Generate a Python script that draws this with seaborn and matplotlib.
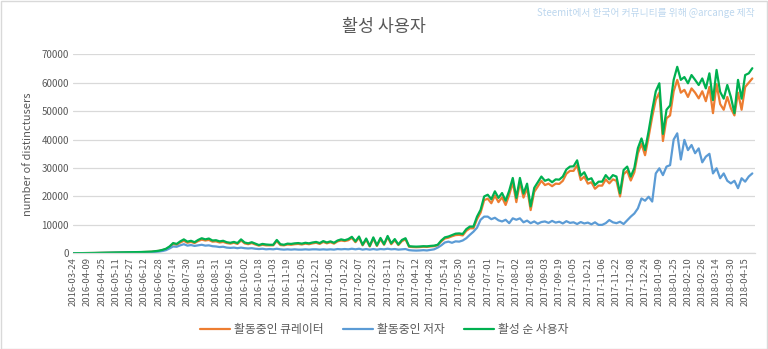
import numpy as np
import pandas as pd
import matplotlib
matplotlib.use("Agg")
import matplotlib.pyplot as plt
from matplotlib.patches import Rectangle
import seaborn as sns

# ---------------- data (sampled every 4 days from 2016-03-24) ----------------
start_date = "2016-03-24"
step_days = 4

series_names = ["활동중인 큐레이터", "활동중인 저자", "활성 순 사용자"]

active_curators = [
    25, 35, 45, 55, 70, 90, 110, 140, 160, 180, 200, 230, 250, 270, 300, 320, 340, 360, 380, 410, 450, 500, 540, 680,
    850, 1100, 1450, 2200,
    3300, 3000, 3800, 4400,
    3700, 4000, 3600, 4300,
    4800, 4500, 4700, 4100,
    4200, 3800, 4000, 3600,
    3400, 3700, 3300, 4500,
    3500, 3200, 3600, 3100,
    2700, 3000, 2800, 2800,
    2800, 4300, 2900, 2800,
    3100, 3000, 3200, 3300,
    3100, 3400, 3200, 3500,
    3700, 3300, 4000, 3500,
    3900, 3400, 4200, 4500,
    4300, 4600, 5400, 3900,
    5500, 2800, 4800, 2400,
    5200, 2600, 5000, 3000,
    5700, 3200, 4600, 2900,
    4300, 4900, 2300, 2200,
    2150, 2200, 2300, 2250,
    2400, 2500, 2800, 4200,
    5200, 5500, 6000, 6400,
    6500, 6300, 7900, 8800,
    8800, 12000, 14300, 18700,
    19200, 17600, 20300, 18000,
    19700, 17000, 20500, 25000,
    18000, 25000, 19600, 23000,
    15200, 21600, 23500, 25500,
    24000, 24500, 23600, 24500,
    24400, 25500, 28000, 29000,
    29000, 31000, 25800, 27000,
    24500, 25000, 22700, 23800,
    23800, 26000, 24600, 26000,
    25500, 20000, 27800, 29000,
    25600, 28500, 35200, 38500,
    34500, 41000, 48000, 54000,
    56500, 39500, 47500, 48500,
    57000, 61000, 56500, 57500,
    55000, 58000, 56500, 54500,
    57000, 53500, 58500, 49300,
    59500, 52500, 50500, 55000,
    51000, 48500, 56500, 50500,
    58500, 60000, 61500,
]

active_authors = [
    20, 25, 30, 40, 50, 60, 80, 100, 110, 120, 140, 160, 180, 200, 220, 240, 260, 280, 300, 320, 350, 380, 420, 500,
    600, 800, 1100, 1700,
    2400, 2300, 2800, 3200,
    2700, 2900, 2600, 2800,
    3000, 2700, 2800, 2500,
    2400, 2200, 2300, 2000,
    1900, 2000, 1800, 2000,
    1800, 1700, 1800, 1600,
    1500, 1600, 1400, 1500,
    1400, 1600, 1400, 1300,
    1400, 1300, 1400, 1300,
    1300, 1400, 1300, 1400,
    1400, 1300, 1400, 1300,
    1400, 1300, 1500, 1400,
    1500, 1400, 1600, 1400,
    1600, 1300, 1500, 1300,
    1500, 1300, 1500, 1400,
    1600, 1400, 1500, 1300,
    1400, 1500, 1100, 1000,
    950, 1000, 1100, 1000,
    1200, 1400, 2000, 2800,
    3800, 4100, 3700, 4200,
    4100, 4500, 5300, 6500,
    7600, 9000, 11800, 12900,
    12900, 12000, 12500, 11600,
    11200, 11800, 10600, 12300,
    11800, 12300, 10900, 11500,
    10600, 11200, 10400, 11000,
    11200, 10700, 11400, 10800,
    11100, 10500, 11300, 10700,
    10900, 10300, 11000, 10500,
    10800, 10200, 10900, 10000,
    10000, 10600, 11700, 10900,
    10600, 11100, 10300, 11600,
    12900, 14000, 15800, 19300,
    18500, 19900, 18200, 28100,
    29900, 27500, 30500, 31000,
    40000, 42200, 33000, 39900,
    36300, 38100, 35200, 36900,
    32000, 34000, 35000, 28100,
    29900, 26400, 28100, 25500,
    24600, 25500, 22900, 26400,
    25200, 27000, 28100,
]

active_users = [
    30, 40, 50, 60, 80, 100, 120, 150, 180, 200, 220, 250, 280, 300, 330, 350, 380, 400, 420, 450, 500, 550, 600, 750,
    900, 1200, 1600, 2400,
    3600, 3300, 4200, 4900,
    4100, 4400, 3900, 4700,
    5300, 4900, 5200, 4500,
    4600, 4200, 4400, 3900,
    3700, 4000, 3600, 4900,
    3800, 3500, 3900, 3400,
    2900, 3300, 3100, 3000,
    3000, 4700, 3200, 3000,
    3400, 3300, 3500, 3600,
    3400, 3700, 3500, 3800,
    4000, 3600, 4300, 3800,
    4200, 3700, 4500, 4900,
    4600, 5000, 5800, 4200,
    5900, 3000, 5200, 2600,
    5600, 2800, 5400, 3200,
    6100, 3500, 5000, 3100,
    4700, 5300, 2500, 2400,
    2350, 2400, 2500, 2450,
    2600, 2700, 3000, 4500,
    5600, 5900, 6400, 6900,
    7000, 6800, 8500, 9400,
    9400, 12900, 15300, 20000,
    20600, 19000, 21800, 19500,
    21200, 18500, 22000, 26500,
    19500, 26500, 21000, 24500,
    16500, 23000, 25000, 27000,
    25500, 26000, 25000, 26000,
    25900, 27000, 29500, 30500,
    30600, 32700, 27300, 28500,
    25900, 26400, 24000, 25200,
    25200, 27500, 26000, 27500,
    27000, 21100, 29300, 30500,
    27000, 30000, 37000, 40400,
    36300, 43000, 50400, 57000,
    59800, 42000, 50500, 52000,
    61000, 65600, 61000, 62000,
    59800, 62700, 61000, 59200,
    61500, 58000, 63300, 53900,
    64500, 56800, 54400, 59200,
    55000, 49300, 61000, 54400,
    62700, 63300, 65100,
]

x_tick_labels = [
    "2016-03-24", "2016-04-09", "2016-04-25", "2016-05-11", "2016-05-27", "2016-06-12",
    "2016-06-28", "2016-07-14", "2016-07-30", "2016-08-15", "2016-08-31", "2016-09-16",
    "2016-10-02", "2016-10-18", "2016-11-03", "2016-11-19", "2016-12-05", "2016-12-21",
    "2017-01-06", "2017-01-22", "2017-02-07", "2017-02-23", "2017-03-11", "2017-03-27",
    "2017-04-12", "2017-04-28", "2017-05-14", "2017-05-30", "2017-06-15", "2017-07-01",
    "2017-07-17", "2017-08-02", "2017-08-18", "2017-09-03", "2017-09-19", "2017-10-05",
    "2017-10-21", "2017-11-06", "2017-11-22", "2017-12-08", "2017-12-24", "2018-01-09",
    "2018-01-25", "2018-02-10", "2018-02-26", "2018-03-14", "2018-03-30", "2018-04-15",
]
y_ticks = [0, 10000, 20000, 30000, 40000, 50000, 60000, 70000]

colors = {"활동중인 큐레이터": "#ED7D31", "활동중인 저자": "#5B9BD5", "활성 순 사용자": "#00B050"}

# ---------------- build table ----------------
dates = pd.date_range(start_date, periods=len(active_users), freq=f"{step_days}D")
wide = pd.DataFrame({
    "date": dates,
    series_names[0]: active_curators,
    series_names[1]: active_authors,
    series_names[2]: active_users,
})
long = wide.melt(id_vars="date", var_name="series", value_name="users")

# ---------------- style ----------------
sns.set_theme(style="white")
plt.rcParams["font.family"] = ["Noto Sans CJK KR", "DejaVu Sans"]
text_color = "#595959"
grid_color = "#d9d9d9"

W, H = 768, 349
fig = plt.figure(figsize=(W / 100, H / 100), dpi=100)
left, right, top, bottom = 73, 755, 54.3, 253.3
ax = fig.add_axes([left / W, 1 - bottom / H, (right - left) / W, (bottom - top) / H])

sns.lineplot(data=long, x="date", y="users", hue="series", hue_order=series_names,
             palette=colors, linewidth=1.6, ax=ax, estimator=None)

# axes
tick_dates = pd.to_datetime(x_tick_labels)
ax.set_xticks(tick_dates)
ax.set_xticklabels(x_tick_labels, rotation=90, fontsize=6.8, color=text_color)
ax.set_xlim(pd.Timestamp(start_date), pd.Timestamp(start_date) + pd.Timedelta(days=763))
ax.set_ylim(0, 70000)
ax.set_yticks(y_ticks)
ax.set_yticklabels([str(v) for v in y_ticks], fontsize=7, color=text_color)
ax.tick_params(axis="both", length=0, pad=3)
ax.yaxis.grid(True, color=grid_color, linewidth=0.9)
ax.xaxis.grid(False)
for s in ["top", "right", "left"]:
    ax.spines[s].set_visible(False)
ax.spines["bottom"].set_color(grid_color)
ax.spines["bottom"].set_linewidth(0.9)
ax.set_xlabel("")
ax.set_ylabel("number of distinctusers", fontsize=8, color=text_color, labelpad=6)

# legend
handles, labels = ax.get_legend_handles_labels()
ax.get_legend().remove()
fig.legend(handles, labels, loc="center", bbox_to_anchor=(0.5, 1 - 330 / H), ncol=3,
           frameon=False, fontsize=8.5, labelcolor=text_color, handlelength=2.6,
           columnspacing=1.6, handletextpad=0.3)

# titles
fig.text(0.5, 1 - 27 / H, "활성 사용자", ha="center", va="center", fontsize=12.5, color=text_color)
fig.text(right / W, 1 - 13 / H, "Steemit에서 한국어 커뮤니티를 위해 @arcange 제작",
         ha="right", va="center", fontsize=7, color="#bdd7ee")

# chart border
fig.patches.append(Rectangle((0.5 / W, 0.5 / H), 1 - 1.5 / W, 1 - 1.5 / H, transform=fig.transFigure,
                             fill=False, edgecolor=grid_color, linewidth=1.0))

fig.savefig("out.png", dpi=100, facecolor="white")
